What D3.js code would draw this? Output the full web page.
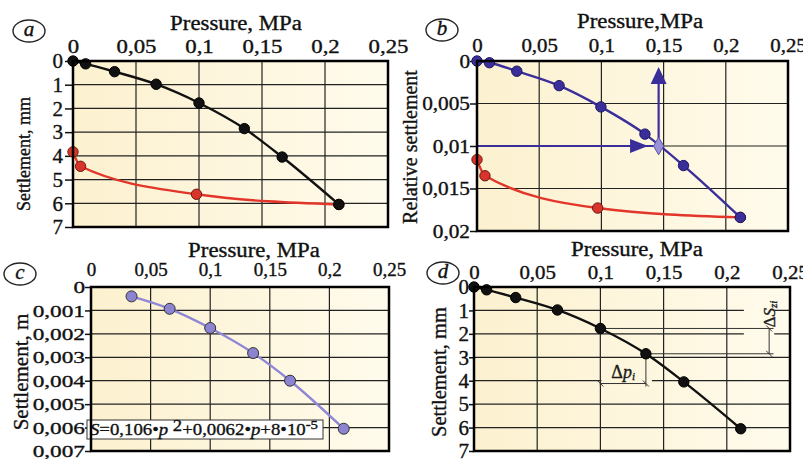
<!DOCTYPE html>
<html>
<head>
<meta charset="utf-8">
<script src="https://cdn.jsdelivr.net/npm/d3@7"></script>
<style>
  body { margin: 0; background: #fff; }
  svg { display: block; }
  svg text { font-family: "Liberation Serif", "Times New Roman", serif; stroke: #111; stroke-width: 0.35; }
</style>
</head>
<body>
<svg id="chart" width="803" height="459"></svg>
<script>
// loading curve (panels a, d)
const pressure = [0, 0.010, 0.033, 0.066, 0.100, 0.136, 0.166, 0.211];
const settlementMm = [0, 0.12, 0.45, 0.98, 1.77, 2.85, 4.05, 6.05];
// unloading curve (panel a)
const unloadPressure = [0, 0.006, 0.098, 0.211];
const unloadMm = [3.83, 4.44, 5.62, 6.05];

// relative settlement (panel b)
const relPressure = [0, 0.010, 0.032, 0.066, 0.0996, 0.135, 0.166, 0.2117];
const relSettlement = [0, 0.0002, 0.0012, 0.0029, 0.0054, 0.0086, 0.0123, 0.0184];
const relUnloadPressure = [0, 0.0064, 0.097, 0.2117];
const relUnload = [0.0116, 0.0135, 0.0173, 0.0184];
const relMark = [0.146, 0.01];

// settlement in metres (panel c)
const cPressure = [0.034, 0.066, 0.100, 0.136, 0.167, 0.212];
const cSettlement = [0.0004, 0.00093, 0.00175, 0.00282, 0.0040, 0.00605];

const xTicks = [0, 0.05, 0.1, 0.15, 0.2, 0.25];
const mmTicks = [0, 1, 2, 3, 4, 5, 6, 7];
const relTicks = [0, 0.005, 0.01, 0.015, 0.02];
const mTicks = [0, 0.001, 0.002, 0.003, 0.004, 0.005, 0.006, 0.007];

const svg = d3.select('#chart');
const defs = svg.append('defs');
const fmt = d => String(d).replace('.', ',');
const serif = '"Liberation Serif", "Times New Roman", serif';

function stretch(sel, k) {
  if (k === 1) return;
  sel.each(function () {
    const w = this.getComputedTextLength();
    d3.select(this).attr('textLength', w * k).attr('lengthAdjust', 'spacingAndGlyphs');
  });
}

function makePanel(p) {
  const x = d3.scaleLinear().domain([0, 0.25]).range([p.x0, p.x1]);
  const y = d3.scaleLinear().domain(p.yDomain).range([p.y0, p.y1]);
  const g = svg.append('g');

  const grad = defs.append('linearGradient')
    .attr('id', 'bg-' + p.name)
    .attr('gradientUnits', 'userSpaceOnUse')
    .attr('x1', p.x0).attr('x2', p.x1).attr('y1', 0).attr('y2', 0);
  grad.append('stop').attr('offset', 0).attr('stop-color', '#fcf1cf');
  grad.append('stop').attr('offset', 1).attr('stop-color', '#fffbec');
  p.fill = 'url(#bg-' + p.name + ')';

  g.append('rect')
    .attr('x', p.x0).attr('y', p.y0)
    .attr('width', p.x1 - p.x0).attr('height', p.y1 - p.y0)
    .attr('fill', p.fill);

  // grid
  g.selectAll('.vg').data(xTicks.slice(1, -1)).join('line')
    .attr('x1', d => x(d)).attr('x2', d => x(d))
    .attr('y1', p.y0).attr('y2', p.y1)
    .attr('stroke', '#222').attr('stroke-width', 1.2);
  g.selectAll('.hg').data(p.yTicks.slice(1, -1)).join('line')
    .attr('x1', p.x0).attr('x2', p.x1)
    .attr('y1', d => y(d)).attr('y2', d => y(d))
    .attr('stroke', '#222').attr('stroke-width', 1.2);

  // x axis (top)
  const xa = g.append('g')
    .attr('transform', `translate(0,${p.y0})`)
    .call(d3.axisTop(x).tickValues(xTicks).tickSize(0).tickPadding(p.xPad).tickFormat(fmt))
    .attr('font-family', serif);
  xa.select('.domain').remove();
  xa.selectAll('text').attr('font-size', p.xFont).attr('fill', '#111')
    .call(stretch, p.xStretch);

  // y axis (left)
  const ya = g.append('g')
    .attr('transform', `translate(${p.x0},0)`)
    .call(d3.axisLeft(y).tickValues(p.yTicks).tickSize(p.yTick).tickPadding(p.yPad).tickFormat(fmt))
    .attr('font-family', serif);
  ya.select('.domain').remove();
  ya.selectAll('line').attr('stroke', '#111').attr('stroke-width', 1.5);
  ya.selectAll('text').attr('font-size', p.yFont).attr('fill', '#111')
    .call(stretch, p.yStretch);

  // titles
  const tt = g.append('text')
    .attr('x', p.title[0]).attr('y', p.title[1])
    .attr('text-anchor', 'middle').attr('font-size', 20).attr('fill', '#111')
    .text(p.titleText);
  stretch(tt, 1.14);

  g.append('text')
    .attr('transform', `translate(${p.ylab[0]},${p.ylab[1]}) rotate(-90)`)
    .attr('text-anchor', 'middle').attr('font-size', p.ylabFont).attr('fill', '#111')
    .text(p.ylabText);

  // panel letter
  g.append('ellipse')
    .attr('cx', p.letter[0]).attr('cy', p.letter[1]).attr('rx', 16).attr('ry', 11)
    .attr('fill', 'none').attr('stroke', '#222').attr('stroke-width', 1.4);
  g.append('text')
    .attr('x', p.letter[0]).attr('y', p.letter[1] + 5)
    .attr('text-anchor', 'middle').attr('font-size', 21).attr('font-style', 'italic')
    .attr('fill', '#111').text(p.name);

  const front = svg.append('g');
  p.frame = () => front.append('rect')
    .attr('x', p.x0).attr('y', p.y0)
    .attr('width', p.x1 - p.x0).attr('height', p.y1 - p.y0)
    .attr('fill', 'none').attr('stroke', '#000').attr('stroke-width', 2.5);
  return { g, x, y, p };
}

function drawSeries(panel, xs, ys, color, dot, dotStroke, r) {
  const { g, x, y } = panel;
  const pts = d3.zip(xs, ys);
  const line = d3.line().x(d => x(d[0])).y(d => y(d[1])).curve(d3.curveMonotoneX);
  g.append('path').datum(pts)
    .attr('d', line).attr('fill', 'none')
    .attr('stroke', color).attr('stroke-width', 2.4);
  g.selectAll(null).data(pts).join('circle')
    .attr('cx', d => x(d[0])).attr('cy', d => y(d[1])).attr('r', r || 5.2)
    .attr('fill', dot).attr('stroke', dotStroke).attr('stroke-width', 1);
}

// ---------- panel a ----------
const A = makePanel({
  name: 'a', x0: 73, x1: 388, y0: 61, y1: 227, yDomain: [0, 7], yTicks: mmTicks,
  xPad: 8, xFont: 19, xStretch: 1.2, yFont: 21, yStretch: 1, yTick: 8, yPad: 2,
  title: [236, 30], titleText: 'Pressure, MPa',
  ylab: [30, 154], ylabFont: 18, ylabText: 'Settlement, mm', letter: [29, 31]
});
A.p.frame();
drawSeries(A, unloadPressure, unloadMm, '#e2362b', '#d9342b', '#6b1a12');
drawSeries(A, pressure, settlementMm, '#111', '#111', '#000');

// ---------- panel b ----------
const B = makePanel({
  name: 'b', x0: 477, x1: 788, y0: 61, y1: 231, yDomain: [0, 0.02], yTicks: relTicks,
  xPad: 9, xFont: 19, xStretch: 1.1, yFont: 19, yStretch: 1.12, yTick: 7, yPad: 0,
  title: [640, 28], titleText: 'Pressure,MPa',
  ylab: [417, 147], ylabFont: 20, ylabText: 'Relative settlement', letter: [442, 30]
});
B.p.frame();
drawSeries(B, relUnloadPressure, relUnload, '#e2362b', '#d9342b', '#6b1a12');
drawSeries(B, relPressure, relSettlement, '#3a2e9a', '#3a2e9a', '#1e1760');
{
  const { g, x, y } = B;
  const arrow = '#3a2e9a';
  const mx = x(relMark[0]), my = y(relMark[1]);
  g.append('line').attr('x1', x(0)).attr('x2', mx).attr('y1', my).attr('y2', my)
    .attr('stroke', arrow).attr('stroke-width', 2.2);
  const hx = x(0.1375);
  g.append('path').attr('d', `M${hx},${my}L${hx - 18},${my - 7}L${hx - 18},${my + 7}Z`).attr('fill', arrow);
  const ty = y(0.0007);
  g.append('line').attr('x1', mx).attr('x2', mx).attr('y1', my).attr('y2', ty + 10)
    .attr('stroke', arrow).attr('stroke-width', 2.2);
  g.append('path').attr('d', `M${mx},${ty}L${mx - 8},${ty + 17}L${mx + 8},${ty + 17}Z`).attr('fill', arrow);
  g.append('path')
    .attr('transform', `translate(${mx},${my})`)
    .attr('d', d3.symbol(d3.symbolDiamond, 90)())
    .attr('fill', '#9a92d8').attr('stroke', '#5b52a8').attr('stroke-width', 1);
}

// ---------- panel c ----------
const C = makePanel({
  name: 'c', x0: 91, x1: 389, y0: 287, y1: 451, yDomain: [0, 0.007], yTicks: mTicks,
  xPad: 11, xFont: 19, xStretch: 1, yFont: 17.5, yStretch: 1.33, yTick: 6, yPad: 0,
  title: [254, 257], titleText: 'Pressure, MPa',
  ylab: [28, 372], ylabFont: 21, ylabText: 'Settlement, m', letter: [20, 274]
});
{
  const { g } = C;
  g.append('rect').attr('x', 87).attr('y', 420).attr('width', 236).attr('height', 19)
    .attr('fill', '#fff').attr('stroke', '#333').attr('stroke-width', 1);
  const ft = g.append('text').attr('x', 90).attr('y', 435).attr('font-size', 16.5).attr('fill', '#111');
  ft.append('tspan').attr('font-style', 'italic').text('S');
  ft.append('tspan').text('=0,106•');
  ft.append('tspan').attr('font-style', 'italic').text('p');
  ft.append('tspan').attr('dy', -4).text(' 2');
  ft.append('tspan').attr('dy', 4).text('+0,0062•');
  ft.append('tspan').attr('font-style', 'italic').text('p');
  ft.append('tspan').text('+8•10');
  ft.append('tspan').attr('dy', -6).attr('font-size', 13).text('-5');
  ft.attr('textLength', 228).attr('lengthAdjust', 'spacingAndGlyphs');
}
C.p.frame();
drawSeries(C, cPressure, cSettlement, '#8f86d6', '#8c84d0', '#333', 5.5);

// ---------- panel d ----------
const D = makePanel({
  name: 'd', x0: 474, x1: 790, y0: 287, y1: 451, yDomain: [0, 7], yTicks: mmTicks,
  xPad: 8, xFont: 19, xStretch: 1.1, yFont: 21, yStretch: 1, yTick: 5, yPad: 0,
  title: [637, 256], titleText: 'Pressure, MPa',
  ylab: [446, 372], ylabFont: 20.5, ylabText: 'Settlement, mm', letter: [443, 273]
});
{
  const { g, x, y, p } = D;
  const s1 = settlementMm[4], s2 = settlementMm[5];
  const p1 = pressure[4], p2 = pressure[5];
  const ink = '#333';
  // gaps behind labels
  g.append('rect').attr('x', x(0.2135)).attr('y', y(0.55)).attr('width', x(0.2375) - x(0.2135))
    .attr('height', y(2.3) - y(0.55)).attr('fill', p.fill);
  g.append('rect').attr('x', x(p1) + 1).attr('y', y(3.3)).attr('width', x(p2) - x(p1) + 5)
    .attr('height', y(4.06) - y(3.3)).attr('fill', p.fill);
  // ΔS dimension
  [[p1, s1], [p2, s2]].forEach(([pp, ss]) => {
    g.append('line').attr('x1', x(pp)).attr('x2', x(0.237)).attr('y1', y(ss)).attr('y2', y(ss))
      .attr('stroke', ink).attr('stroke-width', 1);
  });
  const dx = x(0.2335);
  g.append('line').attr('x1', dx).attr('x2', dx).attr('y1', y(s1)).attr('y2', y(s2))
    .attr('stroke', ink).attr('stroke-width', 1);
  [s1, s2].forEach(ss => g.append('line')
    .attr('x1', dx - 3).attr('x2', dx + 3).attr('y1', y(ss) - 3).attr('y2', y(ss) + 3)
    .attr('stroke', ink).attr('stroke-width', 1));
  const sl = g.append('text')
    .attr('transform', `translate(${dx + 6},${y(s1) - 1}) rotate(-90)`)
    .attr('font-size', 17).attr('fill', '#222');
  sl.append('tspan').text('Δ');
  sl.append('tspan').attr('font-style', 'italic').text('S');
  sl.append('tspan').attr('font-style', 'italic').attr('font-size', 11).attr('dy', 2).text('zi');
  // Δp dimension
  const dy = y(4.12);
  [[p1, s1], [p2, s2]].forEach(([pp, ss]) => {
    g.append('line').attr('x1', x(pp)).attr('x2', x(pp)).attr('y1', y(ss)).attr('y2', dy + 3)
      .attr('stroke', ink).attr('stroke-width', 1);
    g.append('line').attr('x1', x(pp) - 3).attr('x2', x(pp) + 3).attr('y1', dy - 3).attr('y2', dy + 3)
      .attr('stroke', ink).attr('stroke-width', 1);
  });
  g.append('line').attr('x1', x(p1)).attr('x2', x(p2)).attr('y1', dy).attr('y2', dy)
    .attr('stroke', ink).attr('stroke-width', 1);
  const pl = g.append('text')
    .attr('x', (x(p1) + x(p2)) / 2).attr('y', y(3.87))
    .attr('text-anchor', 'middle').attr('font-size', 18).attr('fill', '#222');
  pl.append('tspan').text('Δ');
  pl.append('tspan').attr('font-style', 'italic').text('p');
  pl.append('tspan').attr('font-style', 'italic').attr('font-size', 11).attr('dy', 2).text('i');
}
D.p.frame();
drawSeries(D, pressure, settlementMm, '#111', '#111', '#000');
</script>
</body>
</html>
